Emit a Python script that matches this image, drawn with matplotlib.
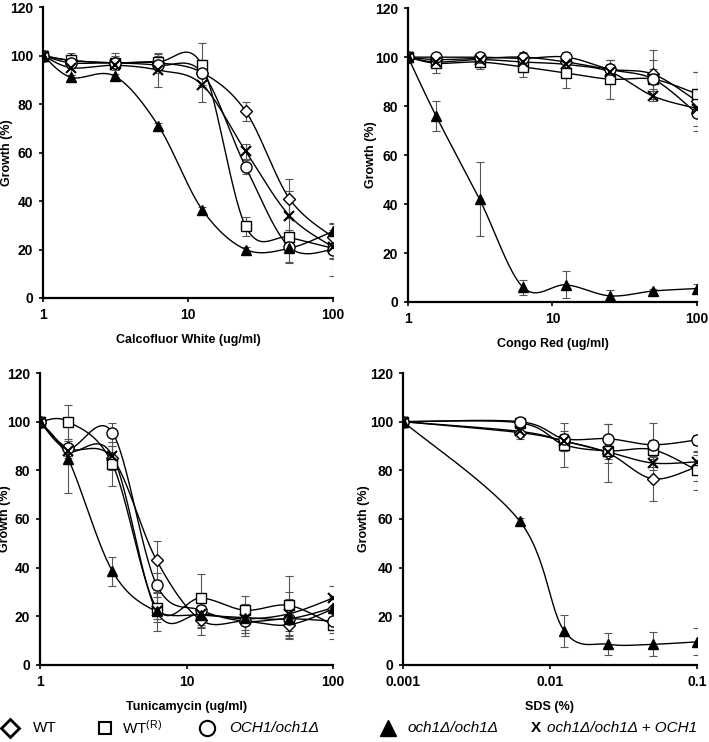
import matplotlib
matplotlib.use('Agg')
import matplotlib.pyplot as plt
from matplotlib.lines import Line2D
import numpy as np

plt.rcParams['font.family'] = ['Liberation Sans', 'DejaVu Sans']
plt.rcParams['mathtext.fontset'] = 'custom'
plt.rcParams['mathtext.rm'] = 'Liberation Sans'
plt.rcParams['mathtext.it'] = 'Liberation Sans:italic'

# concentrations
conc = [1, 1.5625, 3.125, 6.25, 12.5, 25, 50, 100]
sds_conc = [0.001, 0.00625, 0.0125, 0.025, 0.05, 0.1]

# Calcofluor White
cfw_wt = [100, 98, 97, 97, 93, 77, 41, 25]
cfw_wtr = [100, 98, 97, 97.5, 96, 29.5, 25, 20.5]
cfw_het = [100, 97, 97, 96, 93, 54, 21, 20]
cfw_hom = [100, 91, 91.5, 71, 36.5, 20, 20.5, 27.5]
cfw_rev = [100, 95, 96, 94, 88, 60.5, 34, 21]
cfw_wt_err = [0, 2, 2, 3, 5, 4, 8, 3]
cfw_wtr_err = [0, 3, 3, 3, 9, 4, 3, 4]
cfw_het_err = [0, 2, 2, 3, 5, 3, 6, 11]
cfw_hom_err = [0, 1, 1, 1, 1, 1, 6, 3]
cfw_rev_err = [0, 3, 5, 7, 7, 3, 10, 5]

# Congo Red
cr_wt = [100, 99, 99.5, 100, 98, 95, 93, 82]
cr_wtr = [100, 97.5, 98, 96, 93.5, 91, 91, 85]
cr_het = [100, 100, 100, 99.5, 100, 95, 91, 77]
cr_hom = [100, 76, 42, 6, 7, 2.5, 4.5, 5.5]
cr_rev = [100, 98, 99, 98, 97, 94, 84, 79]
cr_wt_err = [0, 2, 2, 2, 3, 4, 10, 12]
cr_wtr_err = [0, 4, 3, 4, 6, 8, 8, 9]
cr_het_err = [0, 1, 1, 2, 2, 4, 4, 5]
cr_hom_err = [0, 6, 15, 3, 5.5, 2.5, 1, 2]
cr_rev_err = [0, 2, 2, 3, 3, 3, 2, 3]

# Tunicamycin
tm_wt = [100, 89, 85, 43, 18.5, 18, 16.5, 23]
tm_wtr = [100, 100, 82.5, 23.5, 27.5, 22.5, 24.5, 16.5]
tm_het = [100, 89, 95.5, 33, 22.5, 18, 19, 18]
tm_hom = [100, 84.5, 38.5, 22, 20.5, 19.5, 19, 23.5]
tm_rev = [100, 88, 86, 22, 21, 19, 21, 27.5]
tm_wt_err = [0, 3, 5, 8, 6, 5, 6, 5]
tm_wtr_err = [0, 7, 9, 6, 10, 6, 12, 6]
tm_het_err = [0, 3, 4, 5, 6, 6, 8, 5]
tm_hom_err = [0, 14, 6, 3, 5, 5, 5, 4]
tm_rev_err = [0, 3, 4, 8, 6, 6, 9, 5]

# SDS
sds_wt = [100, 95.5, 92, 87, 76.5, 81.5]
sds_wtr = [100, 99.5, 90.5, 88, 88.5, 80]
sds_het = [100, 100, 93, 93, 90.5, 92.5]
sds_hom = [100, 59, 14, 8.5, 8.5, 9.5]
sds_rev = [100, 96, 92, 87.5, 83, 83.5]
sds_wt_err = [0, 2, 4, 12, 9, 6]
sds_wtr_err = [0, 1, 9, 5, 4, 8]
sds_het_err = [0, 1, 2, 6, 9, 2]
sds_hom_err = [0, 1.5, 6.5, 4.5, 5, 5.5]
sds_rev_err = [0, 3, 3, 3, 3, 3]

styles = {
    'wt': dict(marker='D', ms=6, mfc='white', mec='black', mew=1.0),
    'wtr': dict(marker='s', ms=7, mfc='white', mec='black', mew=1.0),
    'het': dict(marker='o', ms=8, mfc='white', mec='black', mew=1.0),
    'hom': dict(marker='^', ms=7, mfc='black', mec='black', mew=1.0),
    'rev': dict(marker='x', ms=7, mfc='black', mec='black', mew=1.5),
}


def smooth(x, y, xlim):
    # excel-like smoothed line (bezier through the points) in log-x space
    lx = (np.log10(x) - np.log10(xlim[0])) / (np.log10(xlim[1]) - np.log10(xlim[0]))
    ly = np.asarray(y, float) / 120.0
    P = np.column_stack([lx, ly])
    n = len(P)
    out = []
    for i in range(n - 1):
        p0 = P[i - 1] if i > 0 else P[i]
        p3 = P[i + 2] if i + 2 < n else P[i + 1]
        c1 = P[i] + (P[i + 1] - p0) / 6.0
        c2 = P[i + 1] - (p3 - P[i]) / 6.0
        t = np.linspace(0, 1, 30)[:, None]
        seg = ((1 - t) ** 3 * P[i] + 3 * (1 - t) ** 2 * t * c1
               + 3 * (1 - t) * t ** 2 * c2 + t ** 3 * P[i + 1])
        out.append(seg if i == 0 else seg[1:])
    out = np.vstack(out)
    xs = 10 ** (out[:, 0] * (np.log10(xlim[1]) - np.log10(xlim[0])) + np.log10(xlim[0]))
    return xs, out[:, 1] * 120.0


def panel(ax, x, series, errs, xlim, xlabel, xticks, xticklabels, ylab_x):
    for key in ['wt', 'wtr', 'het', 'hom', 'rev']:
        y = series[key]
        e = errs[key]
        ax.errorbar(x, y, yerr=e, fmt='none', ecolor='#555555', elinewidth=0.8,
                    capsize=3, capthick=0.8, zorder=1)
        xs, ys = smooth(x, y, xlim)
        ax.plot(xs, ys, color='black', lw=1.0, zorder=2)
        ax.plot(x, y, ls='none', zorder=3, **styles[key])
    ax.set_xscale('log')
    ax.set_xlim(xlim)
    ax.set_ylim(0, 120)
    ax.set_xticks(xticks)
    ax.set_xticklabels(xticklabels)
    ax.xaxis.set_minor_locator(matplotlib.ticker.NullLocator())
    ax.set_yticks(range(0, 121, 20))
    for s in ['top', 'right']:
        ax.spines[s].set_visible(False)
    for s in ['left', 'bottom']:
        ax.spines[s].set_linewidth(1.6)
    ax.tick_params(direction='out', length=3, width=1.2, labelsize=10, pad=4)
    for lab in ax.get_xticklabels() + ax.get_yticklabels():
        lab.set_fontweight('bold')
    ax.set_xlabel(xlabel, fontsize=9, fontweight='bold', labelpad=9)
    ax.set_ylabel('Growth (%)', fontsize=9, fontweight='bold')
    ax.yaxis.set_label_coords(ylab_x, 0.5)


fig = plt.figure(figsize=(7.09, 7.42), dpi=100)
ax1 = fig.add_axes([0.0607, 0.5984, 0.409, 0.392])
ax2 = fig.add_axes([0.5755, 0.593, 0.4075, 0.396])
ax3 = fig.add_axes([0.0564, 0.1038, 0.4133, 0.3935])
ax4 = fig.add_axes([0.5684, 0.1038, 0.4146, 0.3935])

panel(ax1, conc,
      dict(wt=cfw_wt, wtr=cfw_wtr, het=cfw_het, hom=cfw_hom, rev=cfw_rev),
      dict(wt=cfw_wt_err, wtr=cfw_wtr_err, het=cfw_het_err, hom=cfw_hom_err, rev=cfw_rev_err),
      (1, 100), 'Calcofluor White (ug/ml)', [1, 10, 100], ['1', '10', '100'], -0.105)
panel(ax2, conc,
      dict(wt=cr_wt, wtr=cr_wtr, het=cr_het, hom=cr_hom, rev=cr_rev),
      dict(wt=cr_wt_err, wtr=cr_wtr_err, het=cr_het_err, hom=cr_hom_err, rev=cr_rev_err),
      (1, 100), 'Congo Red (ug/ml)', [1, 10, 100], ['1', '10', '100'], -0.108)
panel(ax3, conc,
      dict(wt=tm_wt, wtr=tm_wtr, het=tm_het, hom=tm_hom, rev=tm_rev),
      dict(wt=tm_wt_err, wtr=tm_wtr_err, het=tm_het_err, hom=tm_hom_err, rev=tm_rev_err),
      (1, 100), 'Tunicamycin (ug/ml)', [1, 10, 100], ['1', '10', '100'], -0.098)
panel(ax4, sds_conc,
      dict(wt=sds_wt, wtr=sds_wtr, het=sds_het, hom=sds_hom, rev=sds_rev),
      dict(wt=sds_wt_err, wtr=sds_wtr_err, het=sds_het_err, hom=sds_hom_err, rev=sds_rev_err),
      (0.001, 0.1), 'SDS (%)', [0.001, 0.01, 0.1], ['0.001', '0.01', '0.1'], -0.112)

# custom legend row along the bottom
ly = 1 - 728 / 742.0
W = 709.0
fig.add_artist(Line2D([10 / W], [ly], transform=fig.transFigure, marker='D', ms=9,
                      mfc='white', mec='black', mew=2.0, ls='none'))
fig.text(33 / W, ly, 'WT', fontsize=11, va='center')
fig.add_artist(Line2D([105 / W], [ly], transform=fig.transFigure, marker='s', ms=9,
                      mfc='white', mec='black', mew=1.5, ls='none'))
fig.text(122 / W, ly, r'WT$^{\mathrm{(R)}}$', fontsize=11, va='center')
fig.add_artist(Line2D([207 / W], [ly], transform=fig.transFigure, marker='o', ms=11,
                      mfc='white', mec='black', mew=1.5, ls='none'))
fig.text(229 / W, ly, 'OCH1/och1Δ', fontsize=11, va='center', style='italic')
fig.add_artist(Line2D([388 / W], [ly], transform=fig.transFigure, marker='^', ms=11,
                      mfc='black', mec='black', ls='none'))
fig.text(407 / W, ly, 'och1Δ/och1Δ', fontsize=11, va='center', style='italic')
fig.text(531 / W, ly, 'X', fontsize=11, va='center', fontweight='bold')
fig.text(547 / W, ly, 'och1Δ/och1Δ + OCH1', fontsize=11, va='center', style='italic')

fig.savefig('out.png', dpi=100)
